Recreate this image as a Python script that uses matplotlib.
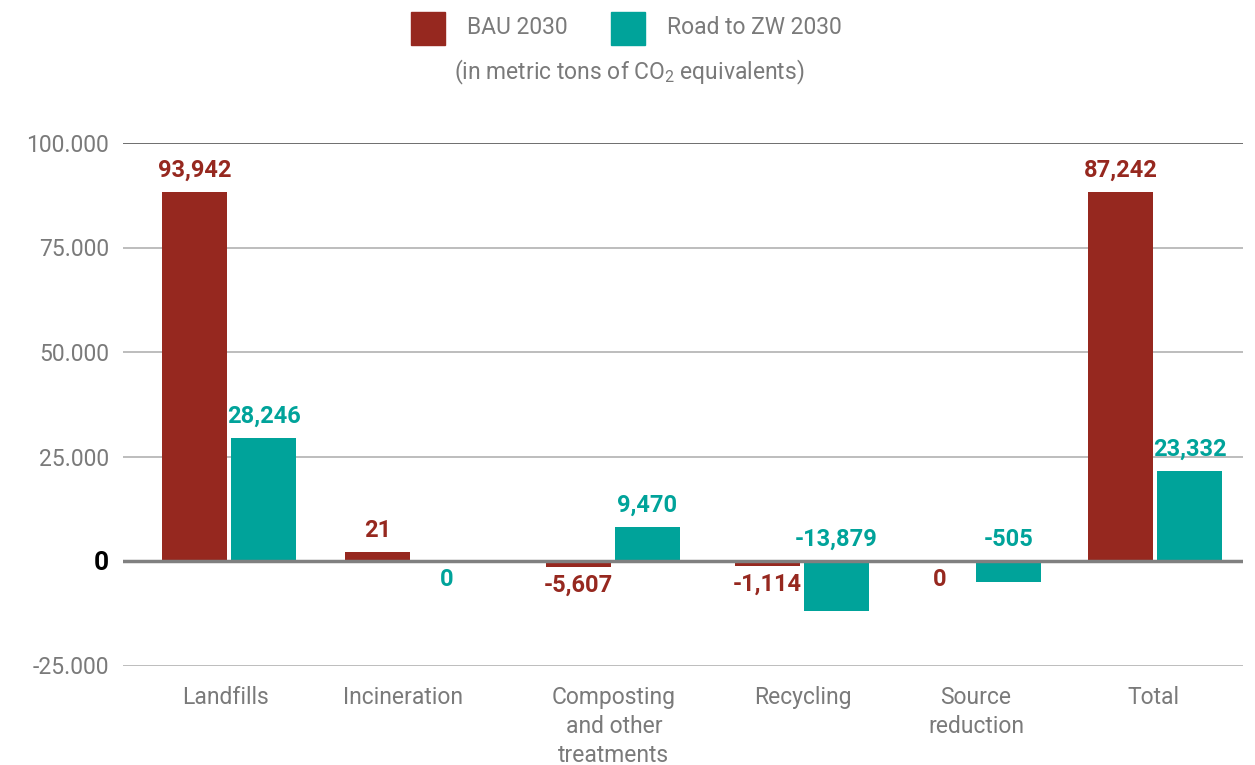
import matplotlib
matplotlib.use('Agg')
import matplotlib.pyplot as plt
from matplotlib.patches import Rectangle

plt.rcParams['font.family'] = ['Roboto', 'DejaVu Sans']
plt.rcParams['mathtext.default'] = 'regular'

# data
categories = ['Landfills', 'Incineration', 'Composting\nand other\ntreatments',
              'Recycling', 'Source\nreduction', 'Total']
bau_bars = [88300, 2150, -1400, -1100, 0, 88300]
zw_bars = [29450, 0, 8200, -11900, -4950, 21550]
bau_labels = ['93,942', '21', '-5,607', '-1,114', '0', '87,242']
zw_labels = ['28,246', '0', '9,470', '-13,879', '-505', '23,332']
# where each value label sits (the original puts some negatives above the axis)
bau_side = ['above', 'above', 'below', 'below', 'below', 'above']
zw_side = ['above', 'below', 'above', 'above', 'above', 'above']
yticks = [-25000, 0, 25000, 50000, 75000, 100000]
ytick_labels = ['-25.000', '0', '25.000', '50.000', '75.000', '100.000']

RED = '#96281f'
TEAL = '#00a39a'
GRAY = '#7a7a7a'

# layout (pixel-based x axis)
group_x = [229, 412, 613, 802, 974, 1155]
label_x = [226, 403, 614, 803, 976, 1153]
bw = 65
off = 34.5

fig = plt.figure(figsize=(12.55, 7.65), dpi=100)
ax = fig.add_axes([123 / 1255, 1 - 665.5 / 765, 1120 / 1255, 522.5 / 765])
ax.set_xlim(123, 1243)
ax.set_ylim(-25000, 100000)

for y in yticks:
    if y == 0:
        continue
    col = '#6e6e6e' if y == 100000 else '#bdbdbd'
    ax.axhline(y, color=col, lw=1.4, zorder=0)

bx = [g - off for g in group_x]
zx = [g + off for g in group_x]
ax.bar(bx, bau_bars, width=bw, color=RED, zorder=2)
ax.bar(zx, zw_bars, width=bw, color=TEAL, zorder=2)
ax.axhline(0, color='#808080', lw=2.5, zorder=3)


def put_labels(xs, vals, labels, sides, color):
    for x, v, t, s in zip(xs, vals, labels, sides):
        if s == 'above':
            ax.annotate(t, (x, max(v, 0)), xytext=(0, 7), textcoords='offset points',
                        ha='center', va='bottom', color=color, fontsize=17,
                        fontweight='bold', annotation_clip=False)
        else:
            ax.annotate(t, (x, min(v, 0)), xytext=(0, -5), textcoords='offset points',
                        ha='center', va='top', color=color, fontsize=17,
                        fontweight='bold', annotation_clip=False)


put_labels(bx, bau_bars, bau_labels, bau_side, RED)
put_labels(zx, zw_bars, zw_labels, zw_side, TEAL)

ax.set_yticks(yticks)
ax.set_yticklabels(ytick_labels)
ax.tick_params(axis='y', length=0, pad=10, labelsize=16.5, labelcolor=GRAY)
for lab in ax.get_yticklabels():
    if lab.get_text() == '0':
        lab.set_color('black')
        lab.set_fontweight('bold')
        lab.set_fontsize(19)

ax.set_xticks(label_x)
ax.set_xticklabels(categories, linespacing=1.33)
ax.tick_params(axis='x', length=0, pad=15, labelsize=16.5, labelcolor=GRAY)

for sp in ax.spines.values():
    sp.set_visible(False)

# legend drawn by hand at the top
fig.add_artist(Rectangle((411 / 1255, 1 - 45 / 765), 34 / 1255, 33 / 765,
                         transform=fig.transFigure, color=RED))
fig.text(467 / 1255, 1 - 28 / 765, 'BAU 2030', color=GRAY, fontsize=16.5, va='center')
fig.add_artist(Rectangle((611 / 1255, 1 - 45 / 765), 34 / 1255, 33 / 765,
                         transform=fig.transFigure, color=TEAL))
fig.text(667 / 1255, 1 - 28 / 765, 'Road to ZW 2030', color=GRAY, fontsize=16.5, va='center')
fig.text(629 / 1255, 1 - 72 / 765, '(in metric tons of CO$_2$ equivalents)',
         color=GRAY, fontsize=16.5, ha='center', va='center')

fig.savefig('out.png', dpi=100, facecolor='white')
